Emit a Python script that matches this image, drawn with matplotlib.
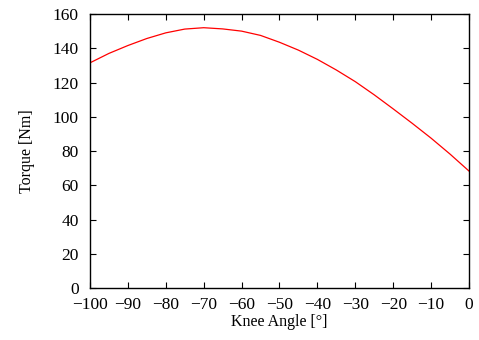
import matplotlib
matplotlib.use('Agg')
import matplotlib.pyplot as plt

# === STYLE SETTINGS ===
plt.rcParams['font.family'] = ['Liberation Serif', 'DejaVu Serif']
plt.rcParams['font.size'] = 11.5
plt.rcParams['axes.unicode_minus'] = True

# knee angle [deg] vs torque [Nm]
angle = [-100, -95, -90, -85, -80, -75, -70, -65, -60, -55, -50,
         -45, -40, -35, -30, -25, -20, -15, -10, -5, 0]
torque = [131.5, 137.0, 141.6, 145.7, 149.0, 151.2, 152.0, 151.3, 150.0, 147.5, 143.5,
          138.9, 133.5, 127.3, 120.5, 112.8, 104.6, 96.2, 87.5, 78.2, 68.3]

xticks = list(range(-100, 1, 10))
yticks = list(range(0, 161, 20))

fig = plt.figure(figsize=(4.79, 3.40), dpi=100)
ax = fig.add_axes([0.1879, 0.1529, 0.7912, 0.8059])

ax.plot(angle, torque, color='red', linewidth=0.9)

ax.set_xlim(-100, 0)
ax.set_ylim(0, 160)
ax.set_xticks(xticks)
ax.set_yticks(yticks)
ax.tick_params(direction='in', length=4, width=0.8, top=True, right=True,
               labelsize=12.5)
ax.tick_params(axis='y', pad=8)
ax.tick_params(axis='x', pad=6.5)
for s in ax.spines.values():
    s.set_linewidth(1.0)

ax.set_xlabel('Knee Angle [°]', labelpad=1)
ax.set_ylabel('Torque [Nm]', labelpad=13)

fig.savefig('out.png', dpi=100)
